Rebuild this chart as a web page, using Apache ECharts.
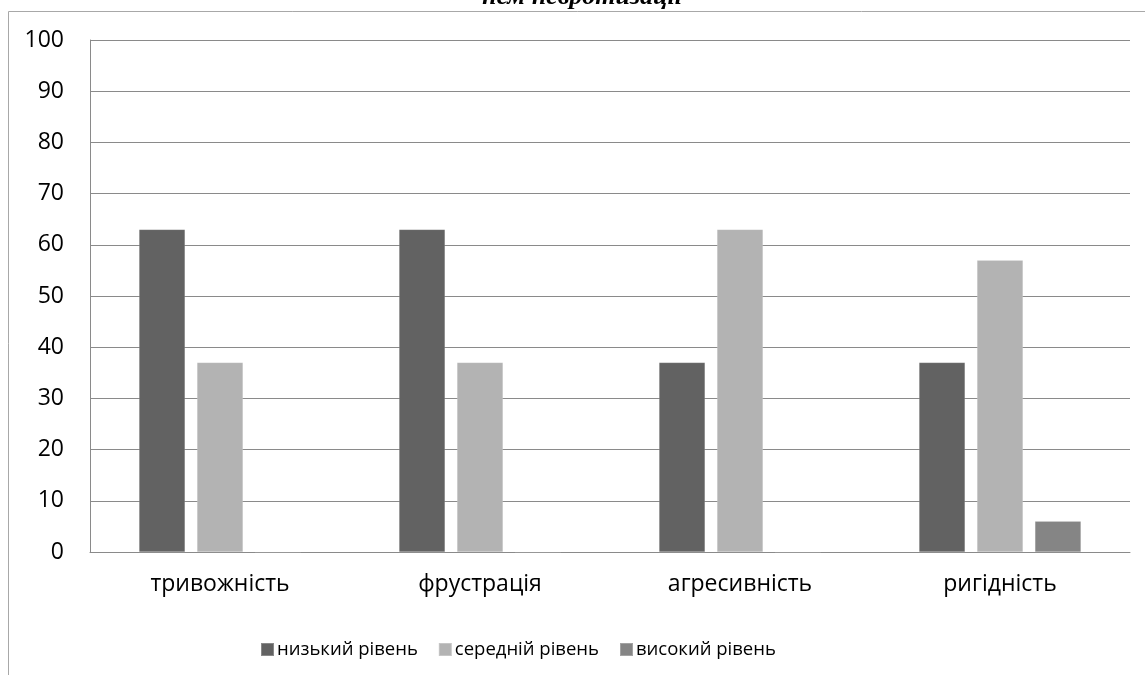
<!DOCTYPE html>
<html>
<head>
<meta charset="utf-8">
<script src="https://cdn.jsdelivr.net/npm/echarts@6/dist/echarts.min.js"></script>
<style>
  html, body { margin: 0; padding: 0; background: #fff; }
  #chart { width: 1145px; height: 675px; }
</style>
</head>
<body>
<div id="chart"></div>
<script>
// Scales of neuroticism components, percent of respondents
const categories = ['тривожність', 'фрустрація', 'агресивність', 'ригідність'];
const lowLevel = [63, 63, 37, 37];
const midLevel = [37, 37, 63, 57];
const highLevel = [0, 0, 0, 6];
const seriesNames = ['низький рівень', 'середній рівень', 'високий рівень'];
const yTicks = { min: 0, max: 100, interval: 10 };
const titleText = 'нем невротизації';

const labelFont = '"Open Sans", "Noto Sans", sans-serif';
const colors = ['#626262', '#b3b3b3', '#858585'];

const chart = echarts.init(document.getElementById('chart'));

function barSeries(name, data, color) {
  return {
    name: name,
    type: 'bar',
    data: data,
    barWidth: 46,
    barGap: '26%',
    itemStyle: { color: color, borderColor: 'rgba(255,255,255,0.25)', borderWidth: 0.5 },
    emphasis: { disabled: true }
  };
}

chart.setOption({
  animation: false,
  color: colors,
  graphic: [
    {
      type: 'rect',
      shape: { x: 8.5, y: 11.5, width: 1200, height: 700 },
      style: { fill: 'none', stroke: '#a8a8a8', lineWidth: 1 },
      silent: true
    },
    {
      type: 'text',
      x: 582,
      y: 10,
      style: {
        text: titleText,
        font: 'italic bold 26px "Liberation Serif", "DejaVu Serif", serif',
        fill: '#000',
        align: 'center',
        verticalAlign: 'bottom'
      },
      silent: true
    }
  ],
  grid: { left: 90, right: 15, top: 40, bottom: 123, containLabel: false },
  legend: {
    data: seriesNames,
    top: 635,
    left: 255,
    itemWidth: 13,
    itemHeight: 13,
    itemGap: 20,
    icon: 'rect',
    textStyle: { fontFamily: labelFont, fontSize: 18.5, color: '#000', padding: [0, 0, 0, -2] }
  },
  xAxis: {
    type: 'category',
    data: categories,
    axisLine: { show: true, lineStyle: { color: '#8a8a8a', width: 1 } },
    axisTick: { show: false },
    axisLabel: { fontFamily: labelFont, fontSize: 23, color: '#000', margin: 21 }
  },
  yAxis: {
    type: 'value',
    min: yTicks.min,
    max: yTicks.max,
    interval: yTicks.interval,
    axisLine: { show: true, lineStyle: { color: '#8a8a8a', width: 1 } },
    axisTick: { show: false },
    splitLine: { show: true, lineStyle: { color: '#8a8a8a', width: 1 } },
    axisLabel: { fontFamily: labelFont, fontSize: 23, color: '#000', margin: 26 }
  },
  series: [
    barSeries(seriesNames[0], lowLevel, colors[0]),
    barSeries(seriesNames[1], midLevel, colors[1]),
    barSeries(seriesNames[2], highLevel, colors[2])
  ]
});
</script>
</body>
</html>
